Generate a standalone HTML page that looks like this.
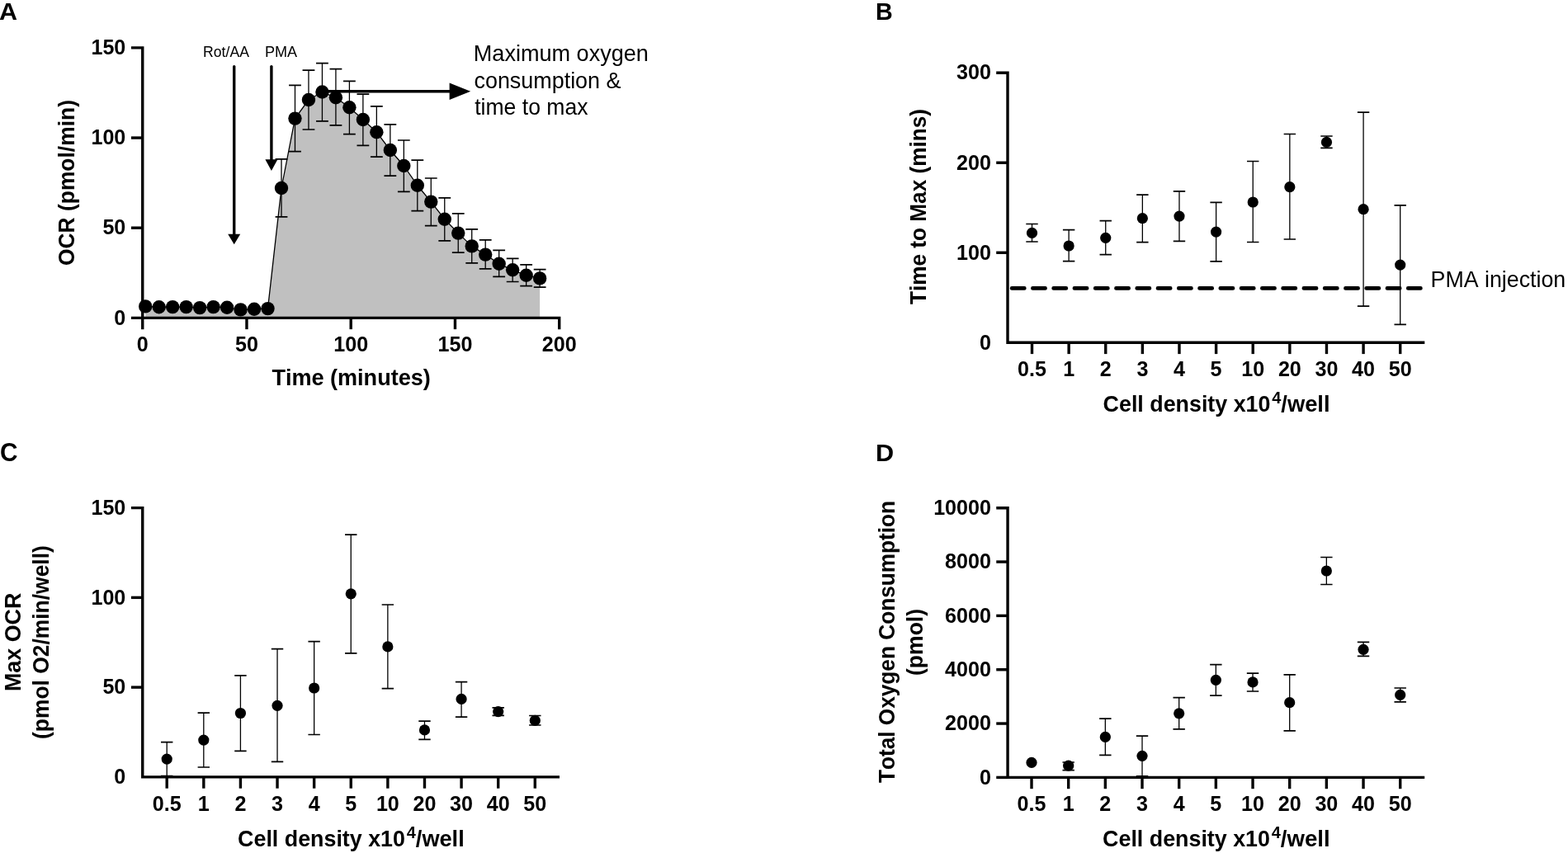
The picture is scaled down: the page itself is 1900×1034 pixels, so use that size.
<!DOCTYPE html>
<html><head><meta charset="utf-8"><title>Figure</title>
<style>html,body{margin:0;padding:0;background:#fff;overflow:hidden;}svg{display:block;}text{font-kerning:none;}</style>
</head><body>
<svg width="1900" height="1034" viewBox="0 0 1900 1034">
<rect width="1900" height="1034" fill="#fff"/>
<text transform="translate(-0.96 24.1) scale(1 0.9942)" font-family="Liberation Sans, Arial, sans-serif" font-weight="bold" font-size="30.556">A</text>
<text transform="translate(1061.08 24.1) scale(1 1.0587)" font-family="Liberation Sans, Arial, sans-serif" font-weight="bold" font-size="28.695">B</text>
<text transform="translate(-0.02 559.2) scale(1 1.0419)" font-family="Liberation Sans, Arial, sans-serif" font-weight="bold" font-size="29.825">C</text>
<text transform="translate(1060.95 558.9) scale(1 0.9910)" font-family="Liberation Sans, Arial, sans-serif" font-weight="bold" font-size="30.655">D</text>
<polygon points="176.2,385.35 176.2,371.4 192.68,372.2 209.16,372.1 225.64,372.1 242.12,373.1 258.6,372.1 275.08,372.7 291.56,375.4 308.04,374.7 324.52,374.1 341,228 357.48,143.6 373.96,121 390.44,111.5 406.92,118.3 423.4,130.2 439.88,145 456.36,160.2 472.84,182 489.32,201 505.8,224.7 522.28,244.6 538.76,265.7 555.24,282.6 571.72,298.4 588.2,308.6 604.68,319.8 621.16,327.3 637.64,333.8 654.12,337.4 654.12,385.35" fill="#c0c0c0" stroke="none"/>
<polyline points="176.2,371.4 192.68,372.2 209.16,372.1 225.64,372.1 242.12,373.1 258.6,372.1 275.08,372.7 291.56,375.4 308.04,374.7 324.52,374.1 341,228 357.48,143.6 373.96,121 390.44,111.5 406.92,118.3 423.4,130.2 439.88,145 456.36,160.2 472.84,182 489.32,201 505.8,224.7 522.28,244.6 538.76,265.7 555.24,282.6 571.72,298.4 588.2,308.6 604.68,319.8 621.16,327.3 637.64,333.8 654.12,337.4" fill="none" stroke="#000" stroke-width="1.3" stroke-linejoin="round"/>
<path d="M341 192.9V262.9" stroke="#000" stroke-width="1.3" fill="none"/>
<path d="M333.6 192.9H348.4M333.6 262.9H348.4" stroke="#000" stroke-width="1.7" fill="none"/>
<path d="M357.48 103.4V183.6" stroke="#000" stroke-width="1.3" fill="none"/>
<path d="M350.08 103.4H364.88M350.08 183.6H364.88" stroke="#000" stroke-width="1.7" fill="none"/>
<path d="M373.96 85.1V157" stroke="#000" stroke-width="1.3" fill="none"/>
<path d="M366.56 85.1H381.36M366.56 157H381.36" stroke="#000" stroke-width="1.7" fill="none"/>
<path d="M390.44 76.6V146.8" stroke="#000" stroke-width="1.3" fill="none"/>
<path d="M383.04 76.6H397.84M383.04 146.8H397.84" stroke="#000" stroke-width="1.7" fill="none"/>
<path d="M406.92 83.6V151.9" stroke="#000" stroke-width="1.3" fill="none"/>
<path d="M399.52 83.6H414.32M399.52 151.9H414.32" stroke="#000" stroke-width="1.7" fill="none"/>
<path d="M423.4 98.3V162.7" stroke="#000" stroke-width="1.3" fill="none"/>
<path d="M416 98.3H430.8M416 162.7H430.8" stroke="#000" stroke-width="1.7" fill="none"/>
<path d="M439.88 114.2V176.4" stroke="#000" stroke-width="1.3" fill="none"/>
<path d="M432.48 114.2H447.28M432.48 176.4H447.28" stroke="#000" stroke-width="1.7" fill="none"/>
<path d="M456.36 128.9V190.1" stroke="#000" stroke-width="1.3" fill="none"/>
<path d="M448.96 128.9H463.76M448.96 190.1H463.76" stroke="#000" stroke-width="1.7" fill="none"/>
<path d="M472.84 150.9V213.1" stroke="#000" stroke-width="1.3" fill="none"/>
<path d="M465.44 150.9H480.24M465.44 213.1H480.24" stroke="#000" stroke-width="1.7" fill="none"/>
<path d="M489.32 170V232.4" stroke="#000" stroke-width="1.3" fill="none"/>
<path d="M481.92 170H496.72M481.92 232.4H496.72" stroke="#000" stroke-width="1.7" fill="none"/>
<path d="M505.8 194.2V255.6" stroke="#000" stroke-width="1.3" fill="none"/>
<path d="M498.4 194.2H513.2M498.4 255.6H513.2" stroke="#000" stroke-width="1.7" fill="none"/>
<path d="M522.28 216V273.6" stroke="#000" stroke-width="1.3" fill="none"/>
<path d="M514.88 216H529.68M514.88 273.6H529.68" stroke="#000" stroke-width="1.7" fill="none"/>
<path d="M538.76 239.9V291.9" stroke="#000" stroke-width="1.3" fill="none"/>
<path d="M531.36 239.9H546.16M531.36 291.9H546.16" stroke="#000" stroke-width="1.7" fill="none"/>
<path d="M555.24 258.8V306.1" stroke="#000" stroke-width="1.3" fill="none"/>
<path d="M547.84 258.8H562.64M547.84 306.1H562.64" stroke="#000" stroke-width="1.7" fill="none"/>
<path d="M571.72 277.9V318.9" stroke="#000" stroke-width="1.3" fill="none"/>
<path d="M564.32 277.9H579.12M564.32 318.9H579.12" stroke="#000" stroke-width="1.7" fill="none"/>
<path d="M588.2 290.9V325.8" stroke="#000" stroke-width="1.3" fill="none"/>
<path d="M580.8 290.9H595.6M580.8 325.8H595.6" stroke="#000" stroke-width="1.7" fill="none"/>
<path d="M604.68 303.3V335.4" stroke="#000" stroke-width="1.3" fill="none"/>
<path d="M597.28 303.3H612.08M597.28 335.4H612.08" stroke="#000" stroke-width="1.7" fill="none"/>
<path d="M621.16 313.3V341.5" stroke="#000" stroke-width="1.3" fill="none"/>
<path d="M613.76 313.3H628.56M613.76 341.5H628.56" stroke="#000" stroke-width="1.7" fill="none"/>
<path d="M637.64 320.8V346.6" stroke="#000" stroke-width="1.3" fill="none"/>
<path d="M630.24 320.8H645.04M630.24 346.6H645.04" stroke="#000" stroke-width="1.7" fill="none"/>
<path d="M654.12 326.7V348.2" stroke="#000" stroke-width="1.3" fill="none"/>
<path d="M646.72 326.7H661.52M646.72 348.2H661.52" stroke="#000" stroke-width="1.7" fill="none"/>
<circle cx="176.2" cy="371.4" r="8.2" fill="#000"/>
<circle cx="192.68" cy="372.2" r="8.2" fill="#000"/>
<circle cx="209.16" cy="372.1" r="8.2" fill="#000"/>
<circle cx="225.64" cy="372.1" r="8.2" fill="#000"/>
<circle cx="242.12" cy="373.1" r="8.2" fill="#000"/>
<circle cx="258.6" cy="372.1" r="8.2" fill="#000"/>
<circle cx="275.08" cy="372.7" r="8.2" fill="#000"/>
<circle cx="291.56" cy="375.4" r="8.2" fill="#000"/>
<circle cx="308.04" cy="374.7" r="8.2" fill="#000"/>
<circle cx="324.52" cy="374.1" r="8.2" fill="#000"/>
<circle cx="341" cy="228" r="8.2" fill="#000"/>
<circle cx="357.48" cy="143.6" r="8.2" fill="#000"/>
<circle cx="373.96" cy="121" r="8.2" fill="#000"/>
<circle cx="390.44" cy="111.5" r="8.2" fill="#000"/>
<circle cx="406.92" cy="118.3" r="8.2" fill="#000"/>
<circle cx="423.4" cy="130.2" r="8.2" fill="#000"/>
<circle cx="439.88" cy="145" r="8.2" fill="#000"/>
<circle cx="456.36" cy="160.2" r="8.2" fill="#000"/>
<circle cx="472.84" cy="182" r="8.2" fill="#000"/>
<circle cx="489.32" cy="201" r="8.2" fill="#000"/>
<circle cx="505.8" cy="224.7" r="8.2" fill="#000"/>
<circle cx="522.28" cy="244.6" r="8.2" fill="#000"/>
<circle cx="538.76" cy="265.7" r="8.2" fill="#000"/>
<circle cx="555.24" cy="282.6" r="8.2" fill="#000"/>
<circle cx="571.72" cy="298.4" r="8.2" fill="#000"/>
<circle cx="588.2" cy="308.6" r="8.2" fill="#000"/>
<circle cx="604.68" cy="319.8" r="8.2" fill="#000"/>
<circle cx="621.16" cy="327.3" r="8.2" fill="#000"/>
<circle cx="637.64" cy="333.8" r="8.2" fill="#000"/>
<circle cx="654.12" cy="337.4" r="8.2" fill="#000"/>
<path d="M158.95 57.9H172.75V399.15" fill="none" stroke="#000" stroke-width="3.4"/>
<path d="M158.95 385.35H677.7V399.15" fill="none" stroke="#000" stroke-width="3.4"/>
<line x1="158.95" y1="276.2" x2="172.75" y2="276.2" stroke="#000" stroke-width="3.4" stroke-linecap="butt"/>
<line x1="158.95" y1="167.05" x2="172.75" y2="167.05" stroke="#000" stroke-width="3.4" stroke-linecap="butt"/>
<line x1="298.95" y1="385.35" x2="298.95" y2="399.15" stroke="#000" stroke-width="3.4" stroke-linecap="butt"/>
<line x1="425.2" y1="385.35" x2="425.2" y2="399.15" stroke="#000" stroke-width="3.4" stroke-linecap="butt"/>
<line x1="551.45" y1="385.35" x2="551.45" y2="399.15" stroke="#000" stroke-width="3.4" stroke-linecap="butt"/>
<text transform="translate(138.37 393.63) scale(1 1.0279)" font-family="Liberation Sans, Arial, sans-serif" font-weight="bold" font-size="25.100">0</text>
<text transform="translate(124.41 284.48) scale(1 1.0279)" font-family="Liberation Sans, Arial, sans-serif" font-weight="bold" font-size="25.100">50</text>
<text transform="translate(110.45 175.33) scale(1 1.0279)" font-family="Liberation Sans, Arial, sans-serif" font-weight="bold" font-size="25.100">100</text>
<text transform="translate(110.45 66.18) scale(1 1.0279)" font-family="Liberation Sans, Arial, sans-serif" font-weight="bold" font-size="25.100">150</text>
<text transform="translate(165.72 426.35) scale(1 1.0279)" font-family="Liberation Sans, Arial, sans-serif" font-weight="bold" font-size="25.100">0</text>
<text transform="translate(284.99 426.35) scale(1 1.0279)" font-family="Liberation Sans, Arial, sans-serif" font-weight="bold" font-size="25.100">50</text>
<text transform="translate(404.26 426.35) scale(1 1.0279)" font-family="Liberation Sans, Arial, sans-serif" font-weight="bold" font-size="25.100">100</text>
<text transform="translate(530.51 426.35) scale(1 1.0279)" font-family="Liberation Sans, Arial, sans-serif" font-weight="bold" font-size="25.100">150</text>
<text transform="translate(656.76 426.35) scale(1 1.0279)" font-family="Liberation Sans, Arial, sans-serif" font-weight="bold" font-size="25.100">200</text>
<text transform="translate(329.4 466.9) scale(1 1.0205)" font-family="Liberation Sans, Arial, sans-serif" font-weight="bold" font-size="27.061">Time (minutes)</text>
<text transform="translate(89.8 322.08) rotate(-90) scale(1 1.0671)" font-family="Liberation Sans, Arial, sans-serif" font-weight="bold" font-size="26.425">OCR (pmol/min)</text>
<line x1="283.7" y1="80.6" x2="283.7" y2="285" stroke="#000" stroke-width="3.4" stroke-linecap="round"/>
<polygon points="276.2,283.8 291.2,283.8 283.7,296.3" fill="#000"/>
<line x1="328.9" y1="80.6" x2="328.9" y2="194" stroke="#000" stroke-width="3.4" stroke-linecap="round"/>
<polygon points="321.4,193.2 336.4,193.2 328.9,207.0" fill="#000"/>
<line x1="391" y1="110.7" x2="546" y2="110.7" stroke="#000" stroke-width="3.4" stroke-linecap="butt"/>
<polygon points="544.6,100.6 544.6,121.0 570.2,110.8" fill="#000"/>
<text transform="translate(246.05 68.5) scale(1 1.0465)" font-family="Liberation Sans, Arial, sans-serif" font-weight="normal" font-size="17.640">Rot/AA</text>
<text transform="translate(320.92 68.5) scale(1 1.0199)" font-family="Liberation Sans, Arial, sans-serif" font-weight="normal" font-size="18.099">PMA</text>
<text transform="translate(573.78 74.2) scale(1 1.0145)" font-family="Liberation Sans, Arial, sans-serif" font-weight="normal" font-size="27.078">Maximum oxygen</text>
<text transform="translate(574.46 106.6) scale(1 1.0205)" font-family="Liberation Sans, Arial, sans-serif" font-weight="normal" font-size="26.919">consumption &amp;</text>
<text transform="translate(575.2 139.4) scale(1 1.0341)" font-family="Liberation Sans, Arial, sans-serif" font-weight="normal" font-size="26.565">time to max</text>
<line x1="1226.1" y1="349.4" x2="1721.4" y2="349.4" stroke="#000" stroke-width="4.7" stroke-linecap="round" stroke-dasharray="15.2 10.07"/>
<path d="M1207.2 88.2H1221V415.3H1726.3" fill="none" stroke="#000" stroke-width="3.4"/>
<line x1="1207.2" y1="306.27" x2="1221" y2="306.27" stroke="#000" stroke-width="3.4" stroke-linecap="butt"/>
<line x1="1207.2" y1="197.23" x2="1221" y2="197.23" stroke="#000" stroke-width="3.4" stroke-linecap="butt"/>
<line x1="1250.5" y1="415.3" x2="1250.5" y2="429.1" stroke="#000" stroke-width="3.4" stroke-linecap="butt"/>
<line x1="1295.12" y1="415.3" x2="1295.12" y2="429.1" stroke="#000" stroke-width="3.4" stroke-linecap="butt"/>
<line x1="1339.74" y1="415.3" x2="1339.74" y2="429.1" stroke="#000" stroke-width="3.4" stroke-linecap="butt"/>
<line x1="1384.36" y1="415.3" x2="1384.36" y2="429.1" stroke="#000" stroke-width="3.4" stroke-linecap="butt"/>
<line x1="1428.98" y1="415.3" x2="1428.98" y2="429.1" stroke="#000" stroke-width="3.4" stroke-linecap="butt"/>
<line x1="1473.6" y1="415.3" x2="1473.6" y2="429.1" stroke="#000" stroke-width="3.4" stroke-linecap="butt"/>
<line x1="1518.22" y1="415.3" x2="1518.22" y2="429.1" stroke="#000" stroke-width="3.4" stroke-linecap="butt"/>
<line x1="1562.84" y1="415.3" x2="1562.84" y2="429.1" stroke="#000" stroke-width="3.4" stroke-linecap="butt"/>
<line x1="1607.46" y1="415.3" x2="1607.46" y2="429.1" stroke="#000" stroke-width="3.4" stroke-linecap="butt"/>
<line x1="1652.08" y1="415.3" x2="1652.08" y2="429.1" stroke="#000" stroke-width="3.4" stroke-linecap="butt"/>
<line x1="1696.7" y1="415.3" x2="1696.7" y2="429.1" stroke="#000" stroke-width="3.4" stroke-linecap="butt"/>
<text transform="translate(1186.97 423.58) scale(1 1.0279)" font-family="Liberation Sans, Arial, sans-serif" font-weight="bold" font-size="25.100">0</text>
<text transform="translate(1159.05 314.55) scale(1 1.0279)" font-family="Liberation Sans, Arial, sans-serif" font-weight="bold" font-size="25.100">100</text>
<text transform="translate(1159.05 205.51) scale(1 1.0279)" font-family="Liberation Sans, Arial, sans-serif" font-weight="bold" font-size="25.100">200</text>
<text transform="translate(1159.05 96.46) scale(1 1.0279)" font-family="Liberation Sans, Arial, sans-serif" font-weight="bold" font-size="25.100">300</text>
<text transform="translate(1233.05 456.1) scale(1 1.0279)" font-family="Liberation Sans, Arial, sans-serif" font-weight="bold" font-size="25.100">0.5</text>
<text transform="translate(1288.14 456.1) scale(1 1.0279)" font-family="Liberation Sans, Arial, sans-serif" font-weight="bold" font-size="25.100">1</text>
<text transform="translate(1332.76 456.1) scale(1 1.0279)" font-family="Liberation Sans, Arial, sans-serif" font-weight="bold" font-size="25.100">2</text>
<text transform="translate(1377.38 456.1) scale(1 1.0279)" font-family="Liberation Sans, Arial, sans-serif" font-weight="bold" font-size="25.100">3</text>
<text transform="translate(1422 456.1) scale(1 1.0279)" font-family="Liberation Sans, Arial, sans-serif" font-weight="bold" font-size="25.100">4</text>
<text transform="translate(1466.62 456.1) scale(1 1.0279)" font-family="Liberation Sans, Arial, sans-serif" font-weight="bold" font-size="25.100">5</text>
<text transform="translate(1504.26 456.1) scale(1 1.0279)" font-family="Liberation Sans, Arial, sans-serif" font-weight="bold" font-size="25.100">10</text>
<text transform="translate(1548.88 456.1) scale(1 1.0279)" font-family="Liberation Sans, Arial, sans-serif" font-weight="bold" font-size="25.100">20</text>
<text transform="translate(1593.5 456.1) scale(1 1.0279)" font-family="Liberation Sans, Arial, sans-serif" font-weight="bold" font-size="25.100">30</text>
<text transform="translate(1638.12 456.1) scale(1 1.0279)" font-family="Liberation Sans, Arial, sans-serif" font-weight="bold" font-size="25.100">40</text>
<text transform="translate(1682.74 456.1) scale(1 1.0279)" font-family="Liberation Sans, Arial, sans-serif" font-weight="bold" font-size="25.100">50</text>
<text transform="translate(1336.6 498.8) scale(1 1.0448)" font-family="Liberation Sans, Arial, sans-serif" font-weight="bold" font-size="26.850">Cell density x10</text>
<text transform="translate(1541.3 489.3) scale(1 1.0114)" font-family="Liberation Sans, Arial, sans-serif" font-weight="bold" font-size="19.976">4</text>
<text transform="translate(1552.33 498.8) scale(1 1.0271)" font-family="Liberation Sans, Arial, sans-serif" font-weight="bold" font-size="27.313">/well</text>
<text transform="translate(1122.1 369.09) rotate(-90) scale(1 1.0545)" font-family="Liberation Sans, Arial, sans-serif" font-weight="bold" font-size="26.191">Time to Max (mins)</text>
<text transform="translate(1733.6 347.6) scale(1 1.0258)" font-family="Liberation Sans, Arial, sans-serif" font-weight="normal" font-size="26.782">PMA injection</text>
<path d="M1250.5 271.5V293" stroke="#000" stroke-width="1.3" fill="none"/>
<path d="M1243.3 271.5H1257.7M1243.3 293H1257.7" stroke="#000" stroke-width="1.7" fill="none"/>
<circle cx="1250.5" cy="282.4" r="6.6" fill="#000"/>
<path d="M1295.12 278.6V316.7" stroke="#000" stroke-width="1.3" fill="none"/>
<path d="M1287.92 278.6H1302.32M1287.92 316.7H1302.32" stroke="#000" stroke-width="1.7" fill="none"/>
<circle cx="1295.12" cy="298" r="6.6" fill="#000"/>
<path d="M1339.74 267.6V308.6" stroke="#000" stroke-width="1.3" fill="none"/>
<path d="M1332.54 267.6H1346.94M1332.54 308.6H1346.94" stroke="#000" stroke-width="1.7" fill="none"/>
<circle cx="1339.74" cy="288.3" r="6.6" fill="#000"/>
<path d="M1384.36 236.1V293.6" stroke="#000" stroke-width="1.3" fill="none"/>
<path d="M1377.16 236.1H1391.56M1377.16 293.6H1391.56" stroke="#000" stroke-width="1.7" fill="none"/>
<circle cx="1384.36" cy="264.7" r="6.6" fill="#000"/>
<path d="M1428.98 231.8V292.4" stroke="#000" stroke-width="1.3" fill="none"/>
<path d="M1421.78 231.8H1436.18M1421.78 292.4H1436.18" stroke="#000" stroke-width="1.7" fill="none"/>
<circle cx="1428.98" cy="262.1" r="6.6" fill="#000"/>
<path d="M1473.6 245.3V316.8" stroke="#000" stroke-width="1.3" fill="none"/>
<path d="M1466.4 245.3H1480.8M1466.4 316.8H1480.8" stroke="#000" stroke-width="1.7" fill="none"/>
<circle cx="1473.6" cy="281.1" r="6.6" fill="#000"/>
<path d="M1518.22 195.5V293.5" stroke="#000" stroke-width="1.3" fill="none"/>
<path d="M1511.02 195.5H1525.42M1511.02 293.5H1525.42" stroke="#000" stroke-width="1.7" fill="none"/>
<circle cx="1518.22" cy="245" r="6.6" fill="#000"/>
<path d="M1562.84 162.5V290" stroke="#000" stroke-width="1.3" fill="none"/>
<path d="M1555.64 162.5H1570.04M1555.64 290H1570.04" stroke="#000" stroke-width="1.7" fill="none"/>
<circle cx="1562.84" cy="226.7" r="6.6" fill="#000"/>
<path d="M1607.46 165V179.3" stroke="#000" stroke-width="1.3" fill="none"/>
<path d="M1600.26 165H1614.66M1600.26 179.3H1614.66" stroke="#000" stroke-width="1.7" fill="none"/>
<circle cx="1607.46" cy="172.4" r="6.6" fill="#000"/>
<path d="M1652.08 136.2V371.2" stroke="#000" stroke-width="1.3" fill="none"/>
<path d="M1644.88 136.2H1659.28M1644.88 371.2H1659.28" stroke="#000" stroke-width="1.7" fill="none"/>
<circle cx="1652.08" cy="253.7" r="6.6" fill="#000"/>
<path d="M1696.7 248.9V393.4" stroke="#000" stroke-width="1.3" fill="none"/>
<path d="M1689.5 248.9H1703.9M1689.5 393.4H1703.9" stroke="#000" stroke-width="1.7" fill="none"/>
<circle cx="1696.7" cy="321.1" r="6.6" fill="#000"/>
<path d="M158.95 615.6H172.75V941.9H678" fill="none" stroke="#000" stroke-width="3.4"/>
<line x1="158.95" y1="833.13" x2="172.75" y2="833.13" stroke="#000" stroke-width="3.4" stroke-linecap="butt"/>
<line x1="158.95" y1="724.37" x2="172.75" y2="724.37" stroke="#000" stroke-width="3.4" stroke-linecap="butt"/>
<line x1="202.2" y1="941.9" x2="202.2" y2="955.7" stroke="#000" stroke-width="3.4" stroke-linecap="butt"/>
<line x1="246.81" y1="941.9" x2="246.81" y2="955.7" stroke="#000" stroke-width="3.4" stroke-linecap="butt"/>
<line x1="291.42" y1="941.9" x2="291.42" y2="955.7" stroke="#000" stroke-width="3.4" stroke-linecap="butt"/>
<line x1="336.03" y1="941.9" x2="336.03" y2="955.7" stroke="#000" stroke-width="3.4" stroke-linecap="butt"/>
<line x1="380.64" y1="941.9" x2="380.64" y2="955.7" stroke="#000" stroke-width="3.4" stroke-linecap="butt"/>
<line x1="425.25" y1="941.9" x2="425.25" y2="955.7" stroke="#000" stroke-width="3.4" stroke-linecap="butt"/>
<line x1="469.86" y1="941.9" x2="469.86" y2="955.7" stroke="#000" stroke-width="3.4" stroke-linecap="butt"/>
<line x1="514.47" y1="941.9" x2="514.47" y2="955.7" stroke="#000" stroke-width="3.4" stroke-linecap="butt"/>
<line x1="559.08" y1="941.9" x2="559.08" y2="955.7" stroke="#000" stroke-width="3.4" stroke-linecap="butt"/>
<line x1="603.69" y1="941.9" x2="603.69" y2="955.7" stroke="#000" stroke-width="3.4" stroke-linecap="butt"/>
<line x1="648.3" y1="941.9" x2="648.3" y2="955.7" stroke="#000" stroke-width="3.4" stroke-linecap="butt"/>
<text transform="translate(138.37 950.18) scale(1 1.0279)" font-family="Liberation Sans, Arial, sans-serif" font-weight="bold" font-size="25.100">0</text>
<text transform="translate(124.41 841.41) scale(1 1.0279)" font-family="Liberation Sans, Arial, sans-serif" font-weight="bold" font-size="25.100">50</text>
<text transform="translate(110.45 732.65) scale(1 1.0279)" font-family="Liberation Sans, Arial, sans-serif" font-weight="bold" font-size="25.100">100</text>
<text transform="translate(110.45 623.88) scale(1 1.0279)" font-family="Liberation Sans, Arial, sans-serif" font-weight="bold" font-size="25.100">150</text>
<text transform="translate(184.75 982.8) scale(1 1.0279)" font-family="Liberation Sans, Arial, sans-serif" font-weight="bold" font-size="25.100">0.5</text>
<text transform="translate(239.83 982.8) scale(1 1.0279)" font-family="Liberation Sans, Arial, sans-serif" font-weight="bold" font-size="25.100">1</text>
<text transform="translate(284.44 982.8) scale(1 1.0279)" font-family="Liberation Sans, Arial, sans-serif" font-weight="bold" font-size="25.100">2</text>
<text transform="translate(329.05 982.8) scale(1 1.0279)" font-family="Liberation Sans, Arial, sans-serif" font-weight="bold" font-size="25.100">3</text>
<text transform="translate(373.66 982.8) scale(1 1.0279)" font-family="Liberation Sans, Arial, sans-serif" font-weight="bold" font-size="25.100">4</text>
<text transform="translate(418.27 982.8) scale(1 1.0279)" font-family="Liberation Sans, Arial, sans-serif" font-weight="bold" font-size="25.100">5</text>
<text transform="translate(455.9 982.8) scale(1 1.0279)" font-family="Liberation Sans, Arial, sans-serif" font-weight="bold" font-size="25.100">10</text>
<text transform="translate(500.51 982.8) scale(1 1.0279)" font-family="Liberation Sans, Arial, sans-serif" font-weight="bold" font-size="25.100">20</text>
<text transform="translate(545.12 982.8) scale(1 1.0279)" font-family="Liberation Sans, Arial, sans-serif" font-weight="bold" font-size="25.100">30</text>
<text transform="translate(589.73 982.8) scale(1 1.0279)" font-family="Liberation Sans, Arial, sans-serif" font-weight="bold" font-size="25.100">40</text>
<text transform="translate(634.34 982.8) scale(1 1.0279)" font-family="Liberation Sans, Arial, sans-serif" font-weight="bold" font-size="25.100">50</text>
<text transform="translate(288.1 1025.7) scale(1 1.0448)" font-family="Liberation Sans, Arial, sans-serif" font-weight="bold" font-size="26.850">Cell density x10</text>
<text transform="translate(492.8 1016.2) scale(1 1.0114)" font-family="Liberation Sans, Arial, sans-serif" font-weight="bold" font-size="19.976">4</text>
<text transform="translate(503.83 1025.7) scale(1 1.0325)" font-family="Liberation Sans, Arial, sans-serif" font-weight="bold" font-size="27.169">/well</text>
<text transform="translate(25.1 838.1) rotate(-90) scale(1 1.0485)" font-family="Liberation Sans, Arial, sans-serif" font-weight="bold" font-size="26.894">Max OCR</text>
<text transform="translate(59.2 896.02) rotate(-90) scale(1 1.0450)" font-family="Liberation Sans, Arial, sans-serif" font-weight="bold" font-size="26.428">(pmol O2/min/well)</text>
<path d="M202.2 899.7V940.6" stroke="#000" stroke-width="1.3" fill="none"/>
<path d="M195 899.7H209.4M195 940.6H209.4" stroke="#000" stroke-width="1.7" fill="none"/>
<circle cx="202.2" cy="920.1" r="6.6" fill="#000"/>
<path d="M246.81 864.2V930" stroke="#000" stroke-width="1.3" fill="none"/>
<path d="M239.61 864.2H254.01M239.61 930H254.01" stroke="#000" stroke-width="1.7" fill="none"/>
<circle cx="246.81" cy="897.1" r="6.6" fill="#000"/>
<path d="M291.42 818.8V910.3" stroke="#000" stroke-width="1.3" fill="none"/>
<path d="M284.22 818.8H298.62M284.22 910.3H298.62" stroke="#000" stroke-width="1.7" fill="none"/>
<circle cx="291.42" cy="864.5" r="6.6" fill="#000"/>
<path d="M336.03 786.6V923.4" stroke="#000" stroke-width="1.3" fill="none"/>
<path d="M328.83 786.6H343.23M328.83 923.4H343.23" stroke="#000" stroke-width="1.7" fill="none"/>
<circle cx="336.03" cy="855.3" r="6.6" fill="#000"/>
<path d="M380.64 777.7V890.5" stroke="#000" stroke-width="1.3" fill="none"/>
<path d="M373.44 777.7H387.84M373.44 890.5H387.84" stroke="#000" stroke-width="1.7" fill="none"/>
<circle cx="380.64" cy="834" r="6.6" fill="#000"/>
<path d="M425.25 648.1V791.8" stroke="#000" stroke-width="1.3" fill="none"/>
<path d="M418.05 648.1H432.45M418.05 791.8H432.45" stroke="#000" stroke-width="1.7" fill="none"/>
<circle cx="425.25" cy="719.8" r="6.6" fill="#000"/>
<path d="M469.86 733V834.6" stroke="#000" stroke-width="1.3" fill="none"/>
<path d="M462.66 733H477.06M462.66 834.6H477.06" stroke="#000" stroke-width="1.7" fill="none"/>
<circle cx="469.86" cy="783.9" r="6.6" fill="#000"/>
<path d="M514.47 874.1V896.4" stroke="#000" stroke-width="1.3" fill="none"/>
<path d="M507.27 874.1H521.67M507.27 896.4H521.67" stroke="#000" stroke-width="1.7" fill="none"/>
<circle cx="514.47" cy="884.9" r="6.6" fill="#000"/>
<path d="M559.08 826.7V869.1" stroke="#000" stroke-width="1.3" fill="none"/>
<path d="M551.88 826.7H566.28M551.88 869.1H566.28" stroke="#000" stroke-width="1.7" fill="none"/>
<circle cx="559.08" cy="847.4" r="6.6" fill="#000"/>
<path d="M603.69 857.8V867.4" stroke="#000" stroke-width="1.3" fill="none"/>
<path d="M596.49 857.8H610.89M596.49 867.4H610.89" stroke="#000" stroke-width="1.7" fill="none"/>
<circle cx="603.69" cy="862.6" r="6.6" fill="#000"/>
<path d="M648.3 867.5V879" stroke="#000" stroke-width="1.3" fill="none"/>
<path d="M641.1 867.5H655.5M641.1 879H655.5" stroke="#000" stroke-width="1.7" fill="none"/>
<circle cx="648.3" cy="873.4" r="6.6" fill="#000"/>
<path d="M1207.25 615.7H1221.05V942.4H1726.2" fill="none" stroke="#000" stroke-width="3.4"/>
<line x1="1207.25" y1="877.06" x2="1221.05" y2="877.06" stroke="#000" stroke-width="3.4" stroke-linecap="butt"/>
<line x1="1207.25" y1="811.72" x2="1221.05" y2="811.72" stroke="#000" stroke-width="3.4" stroke-linecap="butt"/>
<line x1="1207.25" y1="746.38" x2="1221.05" y2="746.38" stroke="#000" stroke-width="3.4" stroke-linecap="butt"/>
<line x1="1207.25" y1="681.04" x2="1221.05" y2="681.04" stroke="#000" stroke-width="3.4" stroke-linecap="butt"/>
<line x1="1207.25" y1="942.4" x2="1221.05" y2="942.4" stroke="#000" stroke-width="3.4" stroke-linecap="butt"/>
<line x1="1250" y1="942.4" x2="1250" y2="956.2" stroke="#000" stroke-width="3.4" stroke-linecap="butt"/>
<line x1="1294.67" y1="942.4" x2="1294.67" y2="956.2" stroke="#000" stroke-width="3.4" stroke-linecap="butt"/>
<line x1="1339.34" y1="942.4" x2="1339.34" y2="956.2" stroke="#000" stroke-width="3.4" stroke-linecap="butt"/>
<line x1="1384.01" y1="942.4" x2="1384.01" y2="956.2" stroke="#000" stroke-width="3.4" stroke-linecap="butt"/>
<line x1="1428.68" y1="942.4" x2="1428.68" y2="956.2" stroke="#000" stroke-width="3.4" stroke-linecap="butt"/>
<line x1="1473.35" y1="942.4" x2="1473.35" y2="956.2" stroke="#000" stroke-width="3.4" stroke-linecap="butt"/>
<line x1="1518.02" y1="942.4" x2="1518.02" y2="956.2" stroke="#000" stroke-width="3.4" stroke-linecap="butt"/>
<line x1="1562.69" y1="942.4" x2="1562.69" y2="956.2" stroke="#000" stroke-width="3.4" stroke-linecap="butt"/>
<line x1="1607.36" y1="942.4" x2="1607.36" y2="956.2" stroke="#000" stroke-width="3.4" stroke-linecap="butt"/>
<line x1="1652.03" y1="942.4" x2="1652.03" y2="956.2" stroke="#000" stroke-width="3.4" stroke-linecap="butt"/>
<line x1="1696.7" y1="942.4" x2="1696.7" y2="956.2" stroke="#000" stroke-width="3.4" stroke-linecap="butt"/>
<text transform="translate(1186.97 950.68) scale(1 1.0279)" font-family="Liberation Sans, Arial, sans-serif" font-weight="bold" font-size="25.100">0</text>
<text transform="translate(1145.09 885.34) scale(1 1.0279)" font-family="Liberation Sans, Arial, sans-serif" font-weight="bold" font-size="25.100">2000</text>
<text transform="translate(1145.09 820) scale(1 1.0279)" font-family="Liberation Sans, Arial, sans-serif" font-weight="bold" font-size="25.100">4000</text>
<text transform="translate(1145.09 754.66) scale(1 1.0279)" font-family="Liberation Sans, Arial, sans-serif" font-weight="bold" font-size="25.100">6000</text>
<text transform="translate(1145.09 689.32) scale(1 1.0279)" font-family="Liberation Sans, Arial, sans-serif" font-weight="bold" font-size="25.100">8000</text>
<text transform="translate(1131.13 623.98) scale(1 1.0279)" font-family="Liberation Sans, Arial, sans-serif" font-weight="bold" font-size="25.100">10000</text>
<text transform="translate(1232.55 983.3) scale(1 1.0279)" font-family="Liberation Sans, Arial, sans-serif" font-weight="bold" font-size="25.100">0.5</text>
<text transform="translate(1287.69 983.3) scale(1 1.0279)" font-family="Liberation Sans, Arial, sans-serif" font-weight="bold" font-size="25.100">1</text>
<text transform="translate(1332.36 983.3) scale(1 1.0279)" font-family="Liberation Sans, Arial, sans-serif" font-weight="bold" font-size="25.100">2</text>
<text transform="translate(1377.03 983.3) scale(1 1.0279)" font-family="Liberation Sans, Arial, sans-serif" font-weight="bold" font-size="25.100">3</text>
<text transform="translate(1421.7 983.3) scale(1 1.0279)" font-family="Liberation Sans, Arial, sans-serif" font-weight="bold" font-size="25.100">4</text>
<text transform="translate(1466.37 983.3) scale(1 1.0279)" font-family="Liberation Sans, Arial, sans-serif" font-weight="bold" font-size="25.100">5</text>
<text transform="translate(1504.06 983.3) scale(1 1.0279)" font-family="Liberation Sans, Arial, sans-serif" font-weight="bold" font-size="25.100">10</text>
<text transform="translate(1548.73 983.3) scale(1 1.0279)" font-family="Liberation Sans, Arial, sans-serif" font-weight="bold" font-size="25.100">20</text>
<text transform="translate(1593.4 983.3) scale(1 1.0279)" font-family="Liberation Sans, Arial, sans-serif" font-weight="bold" font-size="25.100">30</text>
<text transform="translate(1638.07 983.3) scale(1 1.0279)" font-family="Liberation Sans, Arial, sans-serif" font-weight="bold" font-size="25.100">40</text>
<text transform="translate(1682.74 983.3) scale(1 1.0279)" font-family="Liberation Sans, Arial, sans-serif" font-weight="bold" font-size="25.100">50</text>
<text transform="translate(1336.1 1025.7) scale(1 1.0448)" font-family="Liberation Sans, Arial, sans-serif" font-weight="bold" font-size="26.850">Cell density x10</text>
<text transform="translate(1540.8 1016.2) scale(1 1.0114)" font-family="Liberation Sans, Arial, sans-serif" font-weight="bold" font-size="19.976">4</text>
<text transform="translate(1551.83 1025.7) scale(1 1.0182)" font-family="Liberation Sans, Arial, sans-serif" font-weight="bold" font-size="27.553">/well</text>
<text transform="translate(1084 948.99) rotate(-90) scale(1 1.0872)" font-family="Liberation Sans, Arial, sans-serif" font-weight="bold" font-size="26.205">Total Oxygen Consumption</text>
<text transform="translate(1117.5 819.02) rotate(-90) scale(1 1.0287)" font-family="Liberation Sans, Arial, sans-serif" font-weight="bold" font-size="26.564">(pmol)</text>
<circle cx="1250" cy="924.4" r="6.6" fill="#000"/>
<path d="M1294.67 924V933.7" stroke="#000" stroke-width="1.3" fill="none"/>
<path d="M1287.47 924H1301.87M1287.47 933.7H1301.87" stroke="#000" stroke-width="1.7" fill="none"/>
<circle cx="1294.67" cy="928.2" r="6.6" fill="#000"/>
<path d="M1339.34 871.2V915.3" stroke="#000" stroke-width="1.3" fill="none"/>
<path d="M1332.14 871.2H1346.54M1332.14 915.3H1346.54" stroke="#000" stroke-width="1.7" fill="none"/>
<circle cx="1339.34" cy="893.4" r="6.6" fill="#000"/>
<path d="M1384.01 892.1V940.8" stroke="#000" stroke-width="1.3" fill="none"/>
<path d="M1376.81 892.1H1391.21M1376.81 940.8H1391.21" stroke="#000" stroke-width="1.7" fill="none"/>
<circle cx="1384.01" cy="916.3" r="6.6" fill="#000"/>
<path d="M1428.68 845.7V883.8" stroke="#000" stroke-width="1.3" fill="none"/>
<path d="M1421.48 845.7H1435.88M1421.48 883.8H1435.88" stroke="#000" stroke-width="1.7" fill="none"/>
<circle cx="1428.68" cy="864.8" r="6.6" fill="#000"/>
<path d="M1473.35 805.7V843.1" stroke="#000" stroke-width="1.3" fill="none"/>
<path d="M1466.15 805.7H1480.55M1466.15 843.1H1480.55" stroke="#000" stroke-width="1.7" fill="none"/>
<circle cx="1473.35" cy="824.3" r="6.6" fill="#000"/>
<path d="M1518.02 816.1V838" stroke="#000" stroke-width="1.3" fill="none"/>
<path d="M1510.82 816.1H1525.22M1510.82 838H1525.22" stroke="#000" stroke-width="1.7" fill="none"/>
<circle cx="1518.02" cy="826.9" r="6.6" fill="#000"/>
<path d="M1562.69 817.9V885.9" stroke="#000" stroke-width="1.3" fill="none"/>
<path d="M1555.49 817.9H1569.89M1555.49 885.9H1569.89" stroke="#000" stroke-width="1.7" fill="none"/>
<circle cx="1562.69" cy="851.7" r="6.6" fill="#000"/>
<path d="M1607.36 675.5V708.5" stroke="#000" stroke-width="1.3" fill="none"/>
<path d="M1600.16 675.5H1614.56M1600.16 708.5H1614.56" stroke="#000" stroke-width="1.7" fill="none"/>
<circle cx="1607.36" cy="692" r="6.6" fill="#000"/>
<path d="M1652.03 778.3V795.4" stroke="#000" stroke-width="1.3" fill="none"/>
<path d="M1644.83 778.3H1659.23M1644.83 795.4H1659.23" stroke="#000" stroke-width="1.7" fill="none"/>
<circle cx="1652.03" cy="787.3" r="6.6" fill="#000"/>
<path d="M1696.7 834V850.8" stroke="#000" stroke-width="1.3" fill="none"/>
<path d="M1689.5 834H1703.9M1689.5 850.8H1703.9" stroke="#000" stroke-width="1.7" fill="none"/>
<circle cx="1696.7" cy="842.4" r="6.6" fill="#000"/>
</svg>
</body></html>
